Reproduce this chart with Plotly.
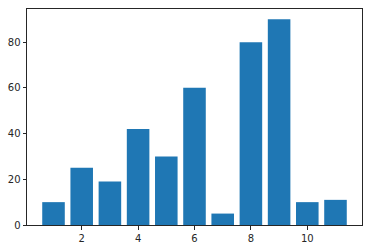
import plotly.graph_objects as go

categories = [1, 2, 3, 4, 5, 6, 7, 8, 9, 10, 11]
values = [10, 25, 19, 42, 30, 60, 5, 80, 90, 10, 11]
x_ticks = [2, 4, 6, 8, 10]
y_ticks = [0, 20, 40, 60, 80]

fig = go.Figure(go.Bar(x=categories, y=values, width=0.8, marker=dict(color="#1f77b4", line=dict(width=0))))

axis_common = dict(showgrid=False, zeroline=False, showline=True, linecolor="#262626", linewidth=1,
                   mirror=True, ticks="outside", ticklen=3.5, tickwidth=1, tickcolor="#262626",
                   tickfont=dict(family="DejaVu Sans", size=10, color="#262626"))
fig.update_layout(
    width=374, height=252,
    margin=dict(l=27, r=12, t=8, b=26),
    paper_bgcolor="white", plot_bgcolor="white",
    showlegend=False,
    xaxis=dict(range=[0.06, 11.94], tickvals=x_ticks, **axis_common),
    yaxis=dict(range=[0, 94.5], tickvals=y_ticks, **axis_common),
)
fig.write_html("out.html")
